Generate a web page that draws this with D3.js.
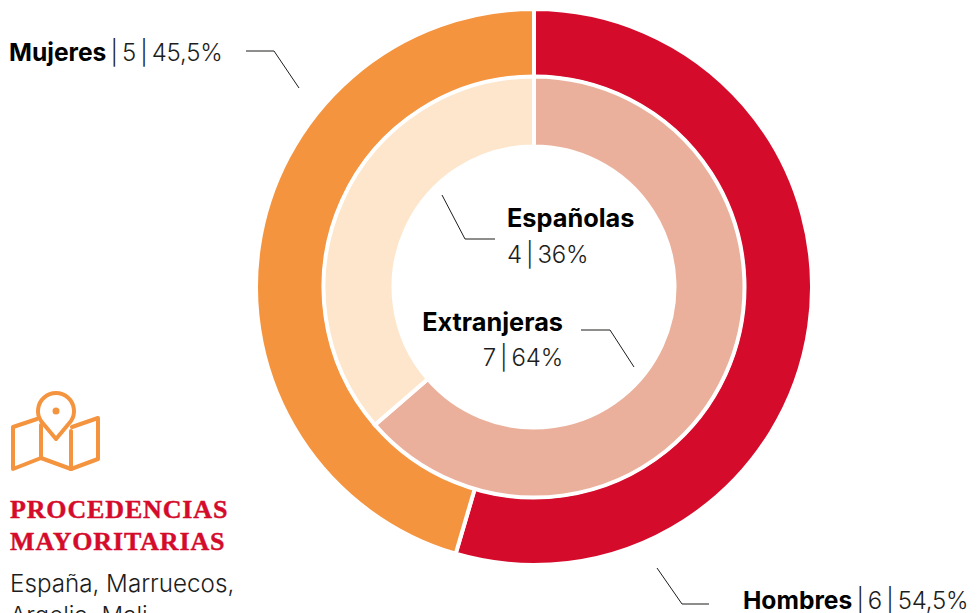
<!DOCTYPE html>
<meta charset="utf-8">
<style type="text/css">
html, body { margin: 0; padding: 0; background: #fff; overflow: hidden; }
text { font-family: Inter, "Liberation Sans", Arial, sans-serif; fill: #1d1d1b; }
.lbl { font-size: 24px; font-weight: 300; letter-spacing: -0.2px; }
.lbl .b { font-size: 24.6px; font-weight: 700; fill: #000; letter-spacing: 0; }
.lbl .b.big { font-size: 25.3px; }
.place { font-size: 24.2px; letter-spacing: 0; }
.head { font-family: "Liberation Serif", serif; font-weight: 700; font-size: 26px; fill: #d50b2b; letter-spacing: 0.85px; stroke: #d50b2b; stroke-width: 0.4px; }
.leader { fill: none; stroke: #1d1d1b; stroke-width: 1; }
</style>
<body>
<svg id="svg" width="977" height="613"></svg>
<script src="https://cdn.jsdelivr.net/npm/d3@7"></script>
<script>
// outer ring: sexo
const sexNames = ["Hombres", "Mujeres"];
const sexValues = [6, 5];
const sexColors = ["#d50b2b", "#f5943f"];

// inner ring: nacionalidad
const originNames = ["Extranjeras", "Españolas"];
const originValues = [7, 4];
const originColors = ["#ebb09c", "#fde6cc"];

const places = ["España, Marruecos,", "Argelia, Mali"];

const svg = d3.select("#svg");
const cx = 534, cy = 287;

const pie = d3.pie().sort(null);

function ring(values, colors, r0, r1) {
  const arc = d3.arc().innerRadius(r0).outerRadius(r1);
  svg.append("g")
      .attr("transform", "translate(" + cx + "," + cy + ")")
    .selectAll("path")
    .data(pie(values))
    .enter().append("path")
      .attr("d", arc)
      .attr("fill", (d, i) => colors[i])
      .attr("stroke", "#fff")
      .attr("stroke-width", 4);
}
ring(sexValues, sexColors, 210, 278);
ring(originValues, originColors, 140.5, 210.5);

// leader lines
const leaders = [
  [[246, 51], [274, 51], [299, 88]],
  [[442, 195], [465, 239], [495, 239]],
  [[581, 330], [610, 330], [634, 367]],
  [[657, 568], [682, 604], [709, 604]]
];
svg.selectAll(".leader")
  .data(leaders)
  .enter().append("path")
    .attr("class", "leader")
    .attr("d", d3.line());

// labels, thin spaces round the bars
const sep = "\u2009|\u2009";
function label(x, y, anchor, bold, rest, boldClass) {
  const t = svg.append("text").attr("class", "lbl")
      .attr("x", x).attr("y", y).attr("text-anchor", anchor);
  if (bold) t.append("tspan").attr("class", boldClass || "b").text(bold);
  if (rest) t.append("tspan").text(rest);
}
label(9, 61, "start", sexNames[1], sep + sexValues[1] + sep + "45,5%");
label(743, 609, "start", sexNames[0], sep + sexValues[0] + sep + "54,5%");
label(507, 227, "start", originNames[1], null, "b big");
label(507, 263, "start", null, originValues[1] + sep + "36%");
label(563, 331, "end", originNames[0], null, "b big");
label(563, 366, "end", null, originValues[0] + sep + "64%");

// map icon
const icon = svg.append("g")
    .attr("fill", "none")
    .attr("stroke", "#f5943f")
    .attr("stroke-width", 4)
    .attr("stroke-linejoin", "round")
    .attr("stroke-linecap", "round");
icon.append("path").attr("d", "M37 419L13 427V469L41 458L71 469L98 459V418L72 427");
icon.append("path").attr("d", "M41 425V458M71 431V469");
icon.append("path").attr("d", "M56 439L41 421A18 18 0 1 1 71 421Z");
svg.append("circle").attr("cx", 56).attr("cy", 411).attr("r", 3.5).attr("fill", "#f5943f");

svg.append("text").attr("class", "head").attr("x", 10).attr("y", 518).text("PROCEDENCIAS");
svg.append("text").attr("class", "head").attr("x", 10).attr("y", 550).text("MAYORITARIAS");

svg.selectAll(".place")
  .data(places)
  .enter().append("text")
    .attr("class", "lbl place")
    .attr("x", 10)
    .attr("y", (d, i) => 592 + i * 32)
    .text(d => d);
</script>
</body>
